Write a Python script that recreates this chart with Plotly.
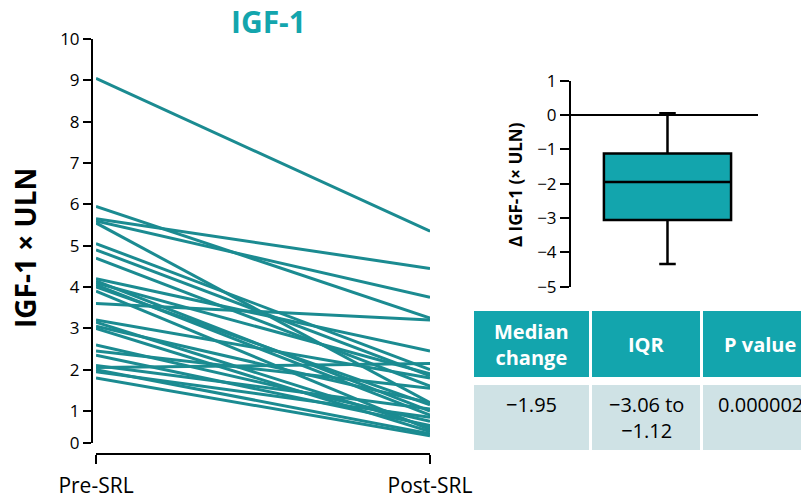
import plotly.graph_objects as go

W, H = 801, 499

# ---------------- data ----------------
categories = ["Pre-SRL", "Post-SRL"]
pre_values = [9.05, 5.95, 5.65, 5.60, 5.55, 5.05, 4.90, 4.70, 4.20, 4.15, 4.10, 4.05, 4.00, 3.90,
              3.60, 3.20, 3.15, 3.05, 3.00, 2.60, 2.45, 2.35, 2.10, 2.05, 2.00, 1.95, 1.80]
post_values = [5.35, 3.25, 4.45, 3.75, 1.20, 2.00, 1.85, 1.60, 2.45, 1.00, 1.90, 0.90, 1.15, 0.55,
               3.20, 1.80, 0.60, 1.20, 0.50, 0.75, 1.55, 0.65, 1.05, 2.15, 0.45, 0.85, 0.40]
y_tick_labels = ["0", "1", "2", "3", "4", "5", "6", "7", "8", "9", "10"]
y_tick_vals = [0.226, 1, 2, 3, 4, 5, 6, 7, 8, 9, 10]   # "0" tick is drawn compressed in the original

box_q1 = -3.06
box_median = -1.95
box_q3 = -1.12
box_min = -4.34
box_max = 0.05

table_header = ["Median<br>change", "IQR", "P value"]
table_body = ["\u22121.95", "\u22123.06 to<br>\u22121.12", "0.000002"]

# ---------------- styles ----------------
TEAL_LINE = "#1B8B91"
TEAL = "#13A5AD"
BODY = "#CFE2E5"
FONT = "Open Sans"

def px(x):
    return x / W

def py(y):
    return 1 - y / H

fig = go.Figure()

xs, ys = [], []
for a, b in zip(pre_values, post_values):
    xs += [0, 1, None]
    ys += [a, b, None]
fig.add_trace(go.Scatter(x=xs, y=ys, mode="lines", line=dict(color=TEAL_LINE, width=3),
                         hoverinfo="skip", xaxis="x", yaxis="y"))

fig.add_trace(go.Box(x=[0.516], q1=[box_q1], median=[box_median], q3=[box_q3],
                     lowerfence=[box_min], upperfence=[box_max], width=0.68, whiskerwidth=0.13,
                     fillcolor=TEAL, line=dict(color="black", width=2.5), boxpoints=False,
                     xaxis="x2", yaxis="y2"))

fig.update_layout(
    width=W, height=H, margin=dict(l=0, r=0, t=0, b=0, autoexpand=False),
    paper_bgcolor="white", plot_bgcolor="white", showlegend=False,
    font=dict(family=FONT, color="black"),
    xaxis=dict(domain=[px(96), px(430)], range=[0, 1], anchor="free", position=py(454),
               showline=True, linecolor="black", linewidth=2, ticks="outside", ticklen=9,
               tickwidth=2, tickcolor="black", tickvals=[0, 1], ticktext=categories,
               tickfont=dict(size=21), showgrid=False, zeroline=False, ticklabelstandoff=4,
               automargin=False),
    yaxis=dict(domain=[py(443), py(39)], range=[0.226, 10], anchor="free", position=px(92),
               showline=True, linecolor="black", linewidth=2, ticks="outside", ticklen=8,
               tickwidth=2, tickcolor="black", tickvals=y_tick_vals, ticktext=y_tick_labels,
               tickfont=dict(size=17), showgrid=False, zeroline=False, automargin=False),
    xaxis2=dict(domain=[px(571), px(758)], range=[0, 1], anchor="y2", visible=False,
                automargin=False),
    yaxis2=dict(domain=[py(286.7), py(80.7)], range=[-5, 1], anchor="x2",
                showline=True, linecolor="black", linewidth=2, ticks="outside", ticklen=9,
                tickwidth=2, tickcolor="black", dtick=1, tickfont=dict(size=17),
                showgrid=False, zeroline=True, zerolinecolor="black", zerolinewidth=2,
                automargin=False),
)

ann = []
def add_text(text, x, y, size, color, angle=0, yanchor="middle"):
    ann.append(dict(text=text, x=px(x), y=py(y), xref="paper", yref="paper", showarrow=False,
                    xanchor="center", yanchor=yanchor, textangle=angle,
                    font=dict(size=size, color=color)))

add_text("<b>IGF-1</b>", 268, 21, 30, TEAL)
add_text("<b>IGF-1 \u00d7 ULN</b>", 25, 248, 28, "black", angle=-90)
add_text("<b>\u0394 IGF-1 (\u00d7 ULN)</b>", 515, 185, 17, "black", angle=-90)

# table
col_x = [(474, 589), (592, 700), (703, 817)]
shapes = []
for i, (x0, x1) in enumerate(col_x):
    shapes.append(dict(type="rect", xref="paper", yref="paper", x0=px(x0), x1=px(x1),
                       y0=py(377), y1=py(311), fillcolor=TEAL, line=dict(width=0), layer="below"))
    shapes.append(dict(type="rect", xref="paper", yref="paper", x0=px(x0), x1=px(x1),
                       y0=py(450), y1=py(385), fillcolor=BODY, line=dict(width=0), layer="below"))
    cx = (x0 + x1) / 2
    add_text("<b>%s</b>" % table_header[i], cx, 344, 20, "white")
    add_text(table_body[i], cx, 389, 20, "black", yanchor="top")

fig.update_layout(annotations=ann, shapes=shapes)
fig.write_html("out.html", config={"displayModeBar": False},
               post_script="document.body.style.margin='0';")
